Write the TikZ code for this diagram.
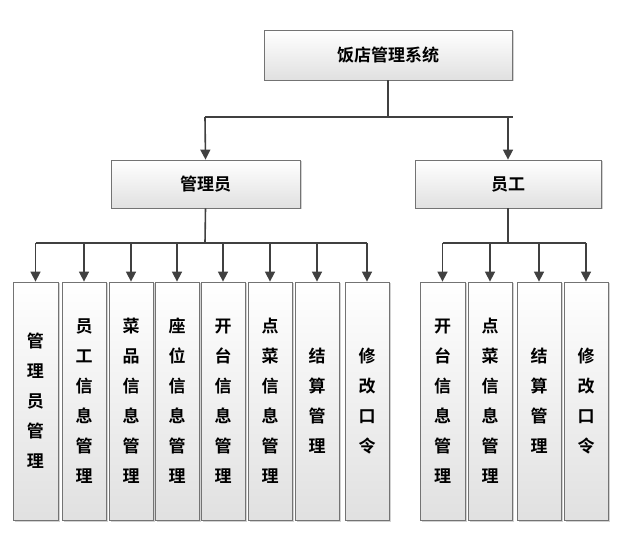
\documentclass[tikz,border=0pt]{standalone}
\usepackage{fontspec}
\newfontfamily\cjk{Noto Sans CJK SC}[BoldFont={* Bold}]
\usetikzlibrary{arrows.meta,shadows}
\begin{document}
\begin{tikzpicture}[x=1pt,y=-1pt,
  box/.style={draw=black!55,line width=0.8pt,top color=white,bottom color=black!12,drop shadow={shadow xshift=1.5pt,shadow yshift=-1.5pt,fill=black!35},font=\cjk\bfseries\fontsize{17}{17}\selectfont},
  vbox/.style={box,align=center,font=\cjk\bfseries\fontsize{17}{30}\selectfont},
  conn/.style={draw=black!75,line width=1.6pt},
  arr/.style={conn,-{Triangle[length=10pt,width=10pt]}}]
\useasboundingbox (0,0) rectangle (622,540);
\node[box,minimum width=248,minimum height=50] (top) at (388,55) {饭店管理系统};
\node[box,minimum width=189,minimum height=48] (adm) at (205.5,184) {管理员};
\node[box,minimum width=186,minimum height=48] (emp) at (508,184) {员工};
\coordinate (j0) at (388,117);
\draw[conn] (top.south) -- (j0);
\draw[conn] (205,117) -- (513,117);
\draw[arr] (205,117) -- (adm.north);
\draw[arr] (508,117) -- (emp.north);
\def\mk#1#2#3#4{\node[vbox,minimum width=#2,minimum height=238] (#1) at (#3,401) {#4};}
\mk{a1}{45}{35.5}{管\\理\\员\\管\\理}
\mk{a2}{44}{84}{员\\工\\信\\息\\管\\理}
\mk{a3}{44}{131}{菜\\品\\信\\息\\管\\理}
\mk{a4}{44}{177}{座\\位\\信\\息\\管\\理}
\mk{a5}{44}{223}{开\\台\\信\\息\\管\\理}
\mk{a6}{44}{270}{点\\菜\\信\\息\\管\\理}
\mk{a7}{44}{317}{结\\算\\管\\理}
\mk{a8}{44}{367}{修\\改\\口\\令}
\mk{b1}{45}{442.5}{开\\台\\信\\息\\管\\理}
\mk{b2}{44}{490}{点\\菜\\信\\息\\管\\理}
\mk{b3}{44}{539}{结\\算\\管\\理}
\mk{b4}{44}{586}{修\\改\\口\\令}
\draw[conn] (adm.south) -- (205,243);
\draw[conn] (35.5,243) -- (367,243);
\foreach \n in {a1,a2,a3,a4,a5,a6,a7,a8} \draw[arr] (\n.north |- 0,243) -- (\n.north);
\draw[conn] (emp.south) -- (508,243);
\draw[conn] (442.5,243) -- (586,243);
\foreach \n in {b1,b2,b3,b4} \draw[arr] (\n.north |- 0,243) -- (\n.north);
\end{tikzpicture}
\end{document}
